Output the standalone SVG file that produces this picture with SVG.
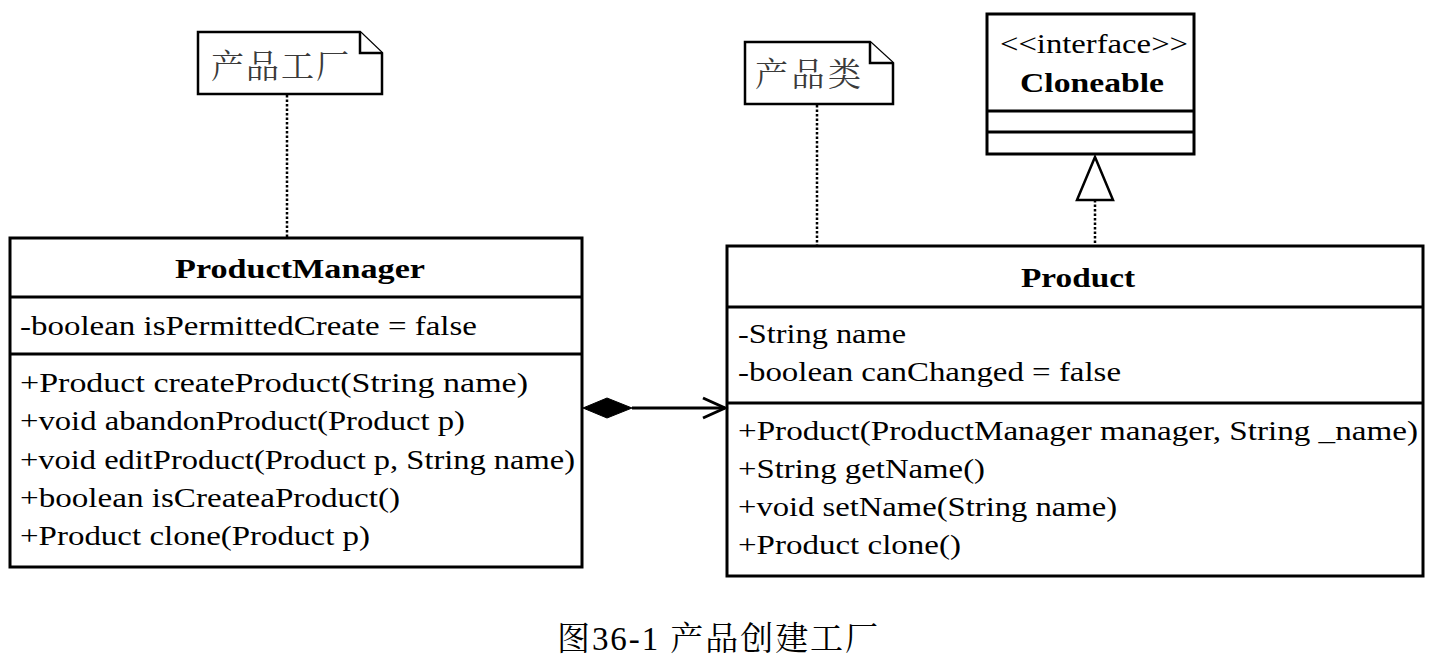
<svg xmlns="http://www.w3.org/2000/svg" width="1438" height="668" viewBox="0 0 1438 668">
<style>
.box{fill:#fff;stroke:#000;stroke-width:3}
.ln{stroke:#000;stroke-width:3;fill:none}
.t{font-family:"Liberation Serif","Times New Roman",serif;font-size:27px;fill:#000}
.b{font-weight:bold;text-anchor:middle;font-size:28px}
.note{fill:#fff;stroke:#000;stroke-width:2.5}
.cj{font-family:"Noto Serif CJK SC","Noto Sans CJK SC",serif;font-size:33px;fill:#3a3a3a}
.dot{stroke:#000;stroke-width:2.5;stroke-dasharray:2.5,2;fill:none}
</style>
<rect width="1438" height="668" fill="#fff"/>
<g id="note-factory">
<path class="note" d="M198,32 H360 L382,53 V94 H198 Z"/>
<path class="note" d="M360,32 V53 H382" fill="none"/>
<text class="cj" x="211" y="78" textLength="138" lengthAdjust="spacing">产品工厂</text>
</g>
<g id="note-product">
<path class="note" d="M745,42 H870 L893,63 V104 H745 Z"/>
<path class="note" d="M870,42 V63 H893" fill="none"/>
<text class="cj" x="755" y="86" textLength="106" lengthAdjust="spacing">产品类</text>
</g>
<g id="cloneable">
<rect class="box" x="987" y="14" width="207" height="140"/>
<line class="ln" x1="987" y1="111" x2="1194" y2="111"/>
<line class="ln" x1="987" y1="132" x2="1194" y2="132"/>
<text class="t" x="1094" y="53" text-anchor="middle" textLength="188" lengthAdjust="spacingAndGlyphs">&lt;&lt;interface&gt;&gt;</text>
<text class="t b" x="1092" y="92" textLength="144" lengthAdjust="spacingAndGlyphs">Cloneable</text>
</g>
<g id="productmanager">
<rect class="box" x="10" y="238" width="572" height="329"/>
<line class="ln" x1="10" y1="297" x2="582" y2="297"/>
<line class="ln" x1="10" y1="354" x2="582" y2="354"/>
<text class="t b" x="300" y="278" textLength="250" lengthAdjust="spacingAndGlyphs">ProductManager</text>
<text class="t" x="20" y="335" textLength="457" lengthAdjust="spacingAndGlyphs">-boolean isPermittedCreate = false</text>
<text class="t" x="20" y="392" textLength="508" lengthAdjust="spacingAndGlyphs">+Product createProduct(String name)</text>
<text class="t" x="20" y="430" textLength="445" lengthAdjust="spacingAndGlyphs">+void abandonProduct(Product p)</text>
<text class="t" x="20" y="469" textLength="555" lengthAdjust="spacingAndGlyphs">+void editProduct(Product p, String name)</text>
<text class="t" x="20" y="507" textLength="380" lengthAdjust="spacingAndGlyphs">+boolean isCreateaProduct()</text>
<text class="t" x="20" y="545" textLength="350" lengthAdjust="spacingAndGlyphs">+Product clone(Product p)</text>
</g>
<g id="product">
<rect class="box" x="727" y="246" width="696" height="330"/>
<line class="ln" x1="727" y1="307" x2="1423" y2="307"/>
<line class="ln" x1="727" y1="403" x2="1423" y2="403"/>
<text class="t b" x="1078" y="287" textLength="114" lengthAdjust="spacingAndGlyphs">Product</text>
<text class="t" x="738" y="343" textLength="168" lengthAdjust="spacingAndGlyphs">-String name</text>
<text class="t" x="738" y="381" textLength="383" lengthAdjust="spacingAndGlyphs">-boolean canChanged = false</text>
<text class="t" x="738" y="440" textLength="680" lengthAdjust="spacingAndGlyphs">+Product(ProductManager manager, String _name)</text>
<text class="t" x="738" y="478" textLength="247" lengthAdjust="spacingAndGlyphs">+String getName()</text>
<text class="t" x="738" y="516" textLength="379" lengthAdjust="spacingAndGlyphs">+void setName(String name)</text>
<text class="t" x="738" y="554" textLength="223" lengthAdjust="spacingAndGlyphs">+Product clone()</text>
</g>
<g id="connectors">
<line class="dot" x1="287" y1="95" x2="287" y2="237"/>
<line class="dot" x1="817" y1="105" x2="817" y2="245"/>
<line class="dot" x1="1095" y1="200" x2="1095" y2="245"/>
<polygon points="1095,157 1113,200 1077,200" fill="#fff" stroke="#000" stroke-width="2.5"/>
<line class="ln" x1="632" y1="408" x2="725" y2="408"/>
<polygon points="583,408 607,398 632,408 607,418" fill="#000" stroke="#000" stroke-width="1"/>
<polyline class="ln" points="703,398 725,408 703,418" stroke-width="2.5"/>
</g>
<text x="557" y="650" font-family="'Liberation Serif','Noto Serif CJK SC',serif" font-size="33" fill="#000" textLength="321" lengthAdjust="spacing">图36-1 产品创建工厂</text>
</svg>
